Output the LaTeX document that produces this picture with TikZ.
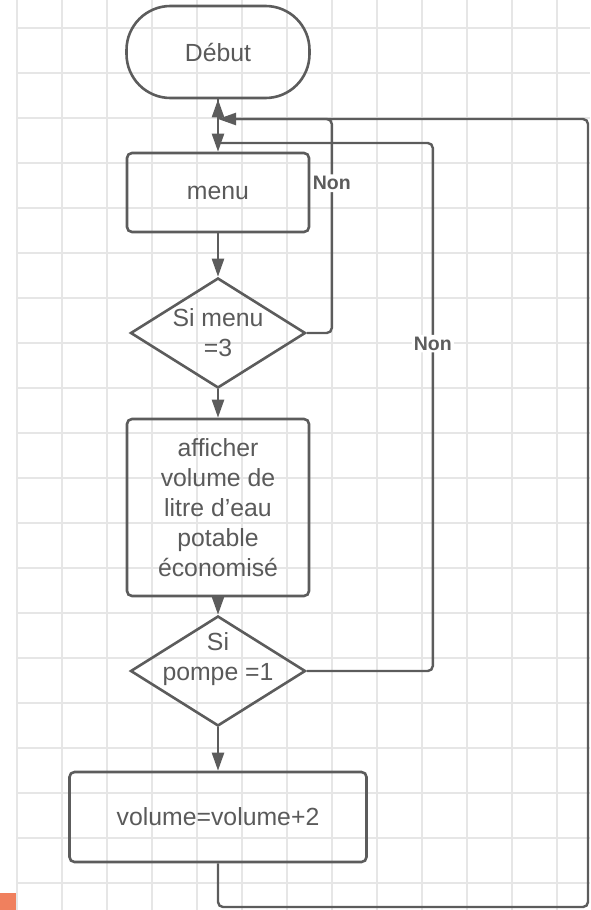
\documentclass[tikz,border=0pt]{standalone}
\usepackage{fontspec}
\setmainfont{Liberation Sans}
\usepackage{tikz}
\usetikzlibrary{shapes.geometric, arrows.meta, positioning}

\definecolor{linegray}{HTML}{5C5C5C}
\definecolor{textgray}{HTML}{5A5A5A}
\definecolor{gridgray}{HTML}{E6E6E6}
\definecolor{tagorange}{HTML}{F0805E}

\begin{document}
\begin{tikzpicture}[
	x=1pt, y=1pt,
	every node/.style={font=\fontsize{24.8}{30}\selectfont, text=textgray},
	terminal/.style={rectangle, draw=linegray, line width=2.6pt, rounded corners=44pt, minimum width=183pt, minimum height=92pt},
	process/.style={rectangle, draw=linegray, line width=2.6pt, rounded corners=5pt, minimum width=182pt, align=center},
	decision/.style={diamond, draw=linegray, line width=2.6pt, shape aspect=1.6, minimum width=175pt, minimum height=110pt, inner sep=-8pt, align=center},
	arrow/.style={draw=linegray, line width=2.4pt, -{Triangle[length=18pt,width=12pt]}},
	loop/.style={draw=linegray, line width=2.4pt, rounded corners=5pt},
	tag/.style={font=\fontsize{19.5}{22}\selectfont\bfseries, text=linegray, fill=white, inner sep=2pt}
	]

	% Grid
	\useasboundingbox (0,0) rectangle (590,-910);
	\foreach \gx in {17,62,...,557}
		\draw[gridgray, line width=1.2pt] (\gx,0) -- (\gx,-910);
	\foreach \gy in {28,73,...,883}
		\draw[gridgray, line width=1.2pt] (16,-\gy) -- (590,-\gy);
	\fill[tagorange] (0,-893) rectangle (16,-910);

	% Nodes
	\node[terminal] (debut) at (218,-52) {Début};
	\node[process, minimum height=79pt, below=52.4pt of debut] (menu) {menu};
	\node[decision, below=43.4pt of menu] (menutest) {Si menu\\=3};
	\node[process, minimum height=177pt, below=28.4pt of menutest] (affiche) {afficher\\volume de\\litre d'eau\\potable\\économisé};
	\node[decision, below=17.4pt of affiche, label={[align=center, yshift=12pt]center:Si\\pompe =1}] (pompetest) {};
	\node[process, minimum width=297pt, minimum height=90pt, below=43.4pt of pompetest] (volume) {volume=volume+2};

	% Junctions
	\coordinate (joinback) at (218,-119);
	\coordinate (joinpompe) at (218,-143);
	\coordinate (farbottom) at (588,-907);
	\coordinate (fartop) at (588,-119);

	% Arrows
	\draw[arrow] (debut) -- (menu);
	\draw[arrow] (menu) -- (menutest);
	\draw[arrow] (menutest) -- (affiche);
	\draw[arrow] (affiche) -- (pompetest);
	\draw[arrow] (pompetest) -- (volume);

	% Loops
	\draw[arrow, rounded corners=5pt] (menutest.east) -- ++(25,0) |- node[tag, pos=0.35] {Non} (joinback);
	\draw[loop] (pompetest.east) -- ++(126,0) |- node[tag, pos=0.31] {Non} (joinpompe);
	\draw[arrow, rounded corners=5pt] (volume.south) |- (farbottom) -- (fartop) -- (joinback) -- (debut.south);
\end{tikzpicture}
\end{document}
